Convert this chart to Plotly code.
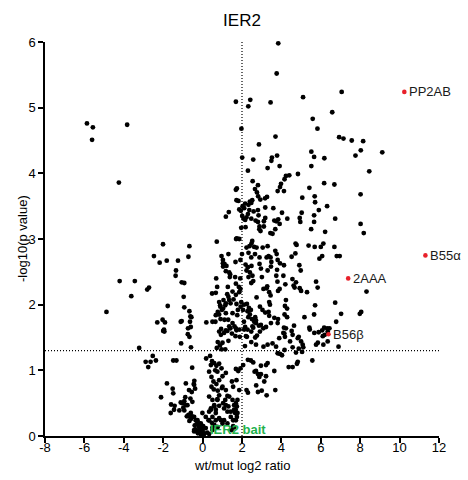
import plotly.graph_objects as go

# ---- data: (wt/mut log2 ratio, -log10 p) ----
pts_left = [(-5.87,4.76),(-5.57,4.70),(-5.61,4.51),(-3.83,4.74),(-4.25,3.86),(-2.01,2.92),(-2.47,2.74),(-2.18,2.64),
    (-4.21,2.36),(-3.44,2.36),(-2.81,2.23),(-2.72,2.26),(-3.62,2.13),(-4.88,1.89),(-2.30,1.73),(-2.03,1.77),(-2.0,1.60),
    (-3.22,1.34),(-2.53,1.22),(-2.89,1.13),(-2.64,1.13),(-2.76,1.05),(-2.37,1.15),(-2.11,0.59)]

pts_right = [(7.06,5.24),(6.93,4.55),(7.15,4.53),(7.57,4.50),(8.15,4.49),(8.03,4.35),(7.76,4.27),(9.12,4.32),(8.46,4.03),
    (6.69,3.83),(8.02,3.68),(6.73,3.31),(8.02,3.23),(8.18,3.09),(6.69,2.88),(6.81,2.74),(6.96,2.74),(8.32,2.20),(6.73,2.03),
    (7.03,1.86),(7.98,1.86),(8.05,1.89),(6.90,1.36)]

pts_top = [(3.84,5.98),(3.76,5.52),(1.69,5.09),(2.42,5.12),(2.32,5.02),(3.45,5.08),(5.10,5.16),(6.58,4.93),(5.59,4.83),
    (5.83,4.68),(1.97,4.68),(3.70,4.56),(2.01,4.24),(2.57,4.21),(2.86,4.44),(3.52,4.24),(3.78,4.27),(5.52,4.33),(5.66,4.25),(6.18,4.23)]

pts_upper = [(3.49,4.19),(3.91,4.11),(3.30,4.08),(2.30,4.04),(5.52,4.11),(4.84,3.99),(4.40,3.97),(4.23,3.96),(4.16,3.91),
    (3.98,3.84),(3.93,3.79),(3.81,3.73),(4.13,3.73),(2.54,3.88),(2.81,3.82),(1.69,3.75),(1.74,3.77),(2.66,3.76),(2.76,3.71),
    (2.82,3.65),(2.40,3.57),(2.47,3.55),(2.33,3.52),(2.52,3.59),(1.72,3.59),(1.82,3.58),(3.17,3.62),(3.27,3.64),(2.93,3.60),
    (2.16,3.54),(2.03,3.50),(2.11,3.47),(1.86,3.45),(1.94,3.43),(1.33,3.41),(1.18,3.34),(2.01,3.35),(2.08,3.31),(2.16,3.29),
    (2.23,3.33),(2.30,3.38),(2.37,3.44),(2.59,3.42),(2.81,3.44),(3.18,3.48),(2.84,3.36),(2.47,3.31),(2.69,3.28),(2.81,3.26),
    (3.11,3.27),(3.18,3.32),(3.59,3.47),(4.03,3.40),(4.30,3.31),(3.64,3.28),(3.74,3.27),(3.84,3.30),(3.91,3.23),(4.93,3.32),
    (5.03,3.40),(5.06,3.63),(5.42,3.78),(5.69,3.65),(5.71,3.56),(5.90,3.44),(5.66,3.36),(4.96,3.26),(5.66,3.26),(6.32,3.50),
    (6.17,3.85),(5.51,3.15),(6.22,3.11),(1.96,3.17),(2.18,3.18),(1.74,3.01),(2.89,3.19),(2.88,3.15),(2.94,3.12),(3.44,3.09),
    (3.55,3.08),(3.69,3.15),(3.11,3.19),(1.70,3.0),(1.86,3.0)]

pts_mid = [(-1.82,2.67),(-1.25,2.67),(-1.35,2.52),(-1.37,2.44),(-1.77,1.98),(-0.67,2.89),(-0.72,2.73),(-1.06,2.34),
    (-0.93,2.33),(-0.96,2.12),(-0.93,1.96),(-0.67,1.90),(-0.62,1.82),(0.72,2.96),(0.96,2.74),(1.03,2.68),(1.03,2.63),
    (1.31,2.77),(0.69,2.40),(1.21,2.59),(1.18,2.51),(1.40,2.46),(0.67,2.18),
    (-0.57,1.81),(-0.64,1.74),(-0.60,1.66),(-1.06,1.75),(-1.91,1.73),(-1.96,1.62),(-1.94,1.59),(-0.74,1.64),(-0.75,1.55),
    (-0.67,1.51),(1.11,2.62),(1.04,2.58),(1.35,2.49),(1.38,2.42),(1.65,2.42),(1.91,2.40),(1.67,2.65),(1.92,2.68),(2.00,2.77),
    (2.23,2.87),(2.38,2.89),(2.48,2.93),(2.62,2.88),(2.74,2.87),(2.52,2.97),(2.33,2.79),(2.47,2.72),(2.66,2.77),(2.89,2.72),
    (2.18,2.61),(2.30,2.57),(2.48,2.59),(2.23,2.52),(2.40,2.49),(2.89,2.62),(2.96,2.55),(2.53,2.44),(2.33,2.42),(2.47,2.33),
    (2.57,2.36),(3.01,2.42),(1.69,2.32),(1.84,2.27),(1.92,2.24),(1.86,2.19),(1.69,2.15),(1.28,2.27),(1.25,2.16),(1.06,2.07),
    (1.35,2.07),(1.42,2.02),(0.89,1.99),(1.15,1.99),(0.77,1.89),(0.98,1.92),(0.65,1.74),(0.91,1.78),(1.11,1.77),(1.30,1.77),
    (0.94,1.63),(1.09,1.57),(1.26,1.60),(1.41,1.64),(1.49,1.56),(1.62,1.67),(1.72,1.61),(1.87,1.62),(1.67,1.52),(1.89,1.51),
    (1.76,1.84),(1.93,1.97),(2.05,1.92),(1.96,2.04),(2.10,2.00),(2.25,2.01),(2.35,1.95),(2.28,1.90),(2.45,1.92),(2.40,1.85),
    (2.32,1.81),(2.50,1.78),(2.67,1.81),(2.62,1.74),(2.71,1.76),(2.10,1.74),(2.16,1.66),(2.28,1.62),(2.57,1.65),(2.47,1.59),
    (2.86,1.68),(3.08,1.64),(2.91,1.59),(2.76,1.53),(2.25,1.51),(2.67,1.50),(3.09,2.24),(3.38,2.19),(3.45,2.14),(3.28,2.28),
    (3.25,2.25),(2.74,2.11),(3.38,2.04),(3.42,2.00),(2.91,1.97),(3.04,1.92),(3.35,1.89),(3.18,1.88),(3.38,1.83),(3.64,1.80),
    (3.30,2.89),(3.05,2.87),(3.45,2.72),(3.25,2.72),(3.69,2.82),(3.76,2.77),(3.81,2.68),(3.35,2.74),(3.49,2.65),(3.47,2.58),
    (3.30,2.52),(3.78,2.53),(3.93,2.63),(4.13,2.60),(3.74,2.44),(3.80,2.35),(4.10,2.44),(4.20,2.31),(3.83,2.21),(3.91,2.24),
    (4.72,2.93),(4.77,2.91),(4.71,2.78),(4.52,2.73),(5.38,2.90),(4.91,2.60),(4.98,2.52),(4.56,2.39),(4.62,2.29),(4.67,2.26),
    (4.74,2.34),(4.93,2.25),(5.00,2.21),(5.30,2.19),(5.69,2.88),(6.00,2.88),(6.13,2.93),(5.93,2.70),(6.07,2.74),(5.76,2.35),
    (5.84,2.26),(4.23,2.07),(4.18,1.98),(4.29,1.94),(4.16,1.85),(4.29,1.81),(3.83,1.78),(4.13,1.65),(4.10,1.57),(4.18,1.51),
    (3.89,1.49),(4.64,1.68),(4.52,1.60),(4.88,1.51),(5.17,1.81),(5.66,1.85),(5.71,1.99),(5.44,1.62),(5.89,1.58),(6.07,1.61),
    (6.17,1.65),(6.32,1.64),(6.20,1.54),
    (0.48,2.17),(0.74,2.27),(0.84,2.04),(0.90,1.97),(1.04,1.94),(1.18,2.02),(1.31,2.12),(1.52,2.20),(1.57,2.08),(1.72,2.01),
    (1.79,1.92),(1.52,1.87),(1.18,1.87),(0.84,1.85),(0.67,1.84)]

pts_band = [(-1.11,1.74),(0.19,1.73),(0.50,1.74),(0.84,1.59),(0.93,1.54),(1.18,1.61),(1.35,1.67),(1.52,1.72),(1.69,1.64),
    (2.11,1.62),(2.20,1.52),(2.53,1.67),(2.71,1.72),(2.96,1.69),(3.22,1.66),(3.47,1.72),(3.81,1.72),(4.15,1.56),(4.23,1.64),
    (4.57,1.54),(4.83,1.49),(5.00,1.44),(5.08,1.39),(5.42,1.65),(5.67,1.57),(5.85,1.42),(6.10,1.52),(6.35,1.59),(6.44,1.64),
    (6.78,1.74),
    (-1.09,1.41),(-0.59,1.35),(0.77,1.43),(1.01,1.42),(0.88,1.38),(0.72,1.34),(0.96,1.32),(1.15,1.32),(1.31,1.45),(2.15,1.37),
    (2.47,1.43),(2.71,1.39),(3.09,1.36),(3.30,1.39),(3.55,1.41),(3.73,1.36),(3.93,1.25),(3.81,1.26),(4.03,1.23),(4.57,1.35),
    (4.74,1.27),(4.88,1.33),(5.11,1.35),(5.05,1.28),(4.16,1.31),(4.44,1.44),(5.76,1.39),(6.13,1.39),(6.35,1.44),(5.57,1.15)]

pts_low = [(-1.49,1.15),(-1.33,1.15),(-1.81,0.80),(-1.52,0.72),(-1.49,0.65),(-1.60,0.48),(-1.42,0.46),(-1.62,0.35),
    (-1.45,0.40),(-1.11,0.51),(-0.93,0.53),(-0.77,0.47),(-0.98,0.43),(-0.53,1.04),(-0.45,0.79),(-0.55,0.67),(-0.38,0.72),
    (-0.72,0.32),(-0.53,0.30),(-0.59,0.26),(-0.35,0.24),(-0.40,0.16),(-0.18,0.19),(-0.14,0.13),(-0.43,0.09),(-0.01,0.08),
    (0.16,0.12),(-0.24,0.04),(-0.08,0.02),(-0.35,0.10),(-0.21,0.07),(-0.09,0.12),(0.03,0.15),(-0.04,0.05),(0.08,0.03),
    (-0.30,0.18),(0.24,0.05),(0.33,0.03),(0.50,0.13),(0.47,0.20),
    (0.18,1.18),(0.38,1.22),(0.48,1.14),(0.59,1.11),(0.70,1.07),(0.42,1.08),(0.84,1.10),(0.64,1.00),(0.75,0.98),(0.96,1.03),
    (0.33,0.98),(0.45,0.90),(0.55,0.83),(0.45,0.75),(0.57,0.71),(0.70,0.79),(0.84,0.85),(1.01,0.91),(1.18,0.96),(0.98,0.73),
    (0.77,0.69),(0.33,0.60),(0.50,0.55),(0.75,0.56),(0.59,0.47),(0.42,0.42),(0.33,0.37),(0.67,0.40),(0.84,0.46),(1.04,0.50),
    (1.15,0.55),(1.26,0.61),(1.09,0.42),(1.31,0.45),(1.43,0.37),(1.60,0.47),(1.68,0.40),(-0.01,0.35),(0.16,0.29),(0.30,0.24),
    (0.50,0.29),(0.67,0.24),(0.84,0.27),(0.59,0.17),(0.75,0.13),(1.09,0.24),(1.26,0.19),(1.55,0.24),(1.74,0.29),(1.60,0.13),
    (1.69,1.02),(1.81,0.99),(1.92,1.03),(2.06,1.08),(2.30,1.16),(2.45,1.15),(2.57,1.12),(2.71,0.99),(2.82,0.94),(2.88,0.90),
    (2.96,0.94),(3.22,1.08),(3.30,1.11),(3.64,0.99),(2.96,1.07),(2.23,0.70),(2.30,0.66),(2.81,0.67),(3.25,0.62),(3.69,0.70),
    (1.55,0.75),(1.86,0.70),(1.72,0.85),(1.49,0.83),(4.37,1.05),(4.57,1.05),(4.83,1.13),(1.77,0.55),(1.74,0.45),(1.65,0.35),
    (1.69,0.24),(1.55,0.15),(1.47,0.09),
    (3.22,0.91),(3.13,0.83),(2.72,0.77),(3.0,0.69),(2.64,0.98),(4.79,1.10),(-0.88,0.59),(-0.62,0.57),(-0.52,0.52),
    (-1.18,0.39),(-0.93,0.39),(-0.42,0.84),(-0.43,0.78),(-0.70,0.30),(-0.67,0.23),(-0.80,0.30),
    (-0.85,0.80),(-0.69,0.70),(-1.03,0.50),(-0.85,0.47),(-0.60,0.35),(-0.43,0.29),(-0.26,0.24),(-0.18,0.14),(-0.35,0.09),
    (-0.43,0.07),(-0.18,0.07),(-0.01,0.09),(0.08,0.04),(-0.09,0.19),(0.33,0.24),(0.67,0.35),(0.42,0.40),(0.59,0.45),
    (0.75,0.55),(0.84,0.62),(1.01,0.75),(1.18,0.70),(1.35,0.60),(1.52,0.55),(1.69,0.50),(1.60,0.40),(1.77,0.35),(1.43,0.29),
    (1.26,0.37),(1.18,0.47),(0.93,0.24),(1.01,0.19),(0.75,0.14),(0.50,0.09)]

hit_names = ["PP2AB", "B55α", "2AAA", "B56β"]
hit_x = [10.24, 11.31, 7.39, 6.39]
hit_y = [5.24, 2.75, 2.40, 1.55]

bait_name = "IER2 bait"
bait_x, bait_y = 0.28, 0.10

x_ticks = [-8, -6, -4, -2, 0, 2, 4, 6, 8, 10, 12]
y_ticks = [0, 1, 2, 3, 4, 5, 6]
fc_cut = 2
p_cut = 1.301  # -log10(0.05)

all_pts = pts_left + pts_right + pts_top + pts_upper + pts_mid + pts_band + pts_low
xs = [p[0] for p in all_pts]
ys = [p[1] for p in all_pts]

FONT = "Liberation Sans, Arial, Helvetica, sans-serif"

fig = go.Figure()
fig.add_trace(go.Scatter(x=xs, y=ys, mode="markers",
                         marker=dict(color="black", size=4.8, line=dict(width=0)),
                         cliponaxis=False, showlegend=False))
fig.add_trace(go.Scatter(x=hit_x, y=hit_y, mode="markers",
                         marker=dict(color="#e8202a", size=4.6, line=dict(width=0)),
                         cliponaxis=False, showlegend=False))

for n, hx, hy in zip(hit_names, hit_x, hit_y):
    fig.add_annotation(x=hx, y=hy, text=n, showarrow=False, xanchor="left", yanchor="middle",
                       xshift=3, font=dict(family=FONT, size=13, color="#1a1a1a"))
fig.add_annotation(x=bait_x, y=bait_y, text="<b>" + bait_name + "</b>", showarrow=False,
                   xanchor="left", yanchor="middle",
                   font=dict(family=FONT, size=13, color="#22b14c"))

# axis titles placed as annotations for exact spacing
fig.add_annotation(x=0.5, y=0, xref="paper", yref="paper", text="wt/mut log2 ratio",
                   showarrow=False, xanchor="center", yanchor="middle", yshift=-29,
                   font=dict(family=FONT, size=13, color="black"))
fig.add_annotation(x=0, y=0.5, xref="paper", yref="paper", text="-log10(p value)",
                   showarrow=False, textangle=-90, xanchor="center", yanchor="middle", xshift=-23,
                   font=dict(family=FONT, size=13, color="black"))

fig.add_shape(type="line", x0=fc_cut, x1=fc_cut, y0=0, y1=6, xref="x", yref="y",
              line=dict(color="black", width=1.2, dash="1px,2px"), layer="below")
fig.add_shape(type="line", x0=-8, x1=12, y0=p_cut, y1=p_cut, xref="x", yref="y",
              line=dict(color="black", width=1.2, dash="1px,2px"), layer="below")

fig.update_layout(
    width=468, height=480,
    margin=dict(l=45, r=29, t=42, b=44, autoexpand=False),
    paper_bgcolor="white", plot_bgcolor="white",
    font=dict(family=FONT, size=13, color="black"),
    title=dict(text="IER2", x=0.5, xref="paper", xanchor="center",
               y=1 - 20 / 480, yref="container", yanchor="middle",
               font=dict(family=FONT, size=17, color="black")),
)
fig.update_xaxes(range=[-8, 12], tickvals=x_ticks, ticktext=[str(t) for t in x_ticks],
                 showgrid=False, zeroline=False, showline=True, linecolor="black", linewidth=1.5,
                 ticks="outside", ticklen=5, tickwidth=1.5, tickcolor="black",
                 ticklabelstandoff=-6,
                 automargin=False, tickfont=dict(size=13))
fig.update_yaxes(range=[0, 6], tickvals=y_ticks, ticktext=[str(t) for t in y_ticks],
                 showgrid=False, zeroline=False, showline=True, linecolor="black", linewidth=1.5,
                 ticks="outside", ticklen=5, tickwidth=1.5, tickcolor="black",
                 automargin=False, tickfont=dict(size=13))

fig.write_html("out.html")
